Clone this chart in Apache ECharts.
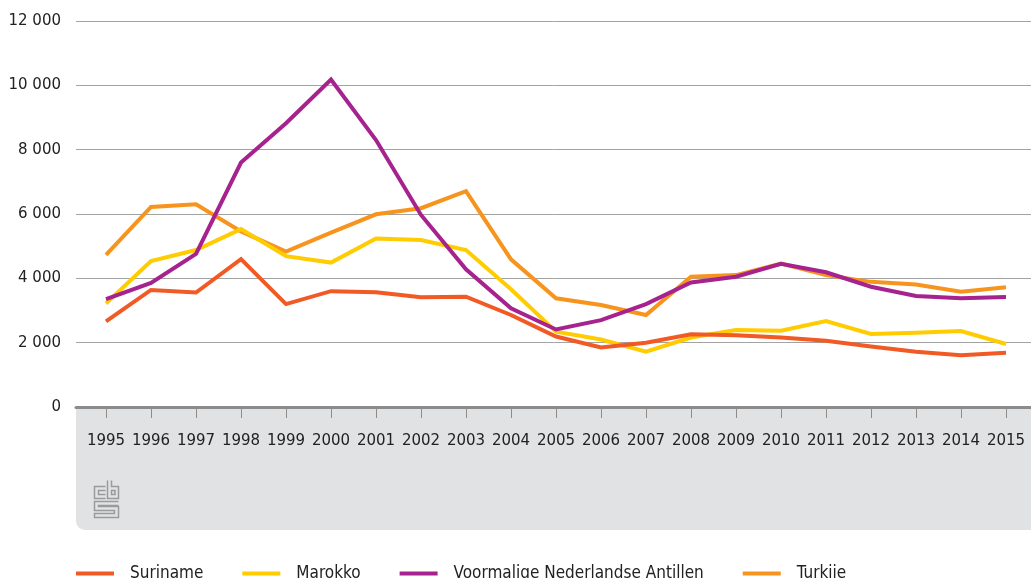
<!DOCTYPE html>
<html>
<head>
<meta charset="UTF-8">
<title>Chart</title>
<script src="https://cdn.jsdelivr.net/npm/echarts@6/dist/echarts.min.js"></script>
<style>
  html, body { margin: 0; padding: 0; background: #fff; }
  #chart { width: 1031px; height: 578px; }
</style>
</head>
<body>
<div id="chart"></div>
<script>
// data
var years = ['1995', '1996', '1997', '1998', '1999', '2000', '2001', '2002', '2003', '2004', '2005',
             '2006', '2007', '2008', '2009', '2010', '2011', '2012', '2013', '2014', '2015'];
var suriname = [2660, 3640, 3560, 4600, 3200, 3600, 3570, 3410, 3430, 2860, 2190,
                1850, 2000, 2260, 2230, 2160, 2060, 1880, 1720, 1610, 1690];
var marokko = [3220, 4540, 4880, 5530, 4690, 4490, 5240, 5190, 4880, 3660, 2340,
               2100, 1720, 2160, 2390, 2370, 2670, 2270, 2310, 2360, 1960];
var antillen = [3350, 3860, 4760, 7600, 8820, 10180, 8300, 5970, 4280, 3070, 2410,
                2700, 3200, 3870, 4050, 4450, 4190, 3740, 3450, 3380, 3420];
var turkije = [4730, 6220, 6300, 5460, 4830, 5420, 5990, 6180, 6710, 4590, 3380,
               3170, 2860, 4050, 4100, 4460, 4100, 3890, 3810, 3580, 3720];
var names = ['Suriname', 'Marokko', 'Voormalige Nederlandse Antillen', 'Turkije'];
var colors = ['#f15a24', '#ffcc00', '#a6228f', '#f7941d'];

var chart = echarts.init(document.getElementById('chart'));

function thousands(v) {
  return String(v).replace(/\B(?=(\d{3})+(?!\d))/g, ' ');
}

function line(name, data, color, z) {
  return {
    name: name,
    type: 'line',
    xAxisIndex: 1,
    yAxisIndex: 1,
    data: data,
    color: color,
    z: z,
    symbol: 'none',
    lineStyle: { width: 4, color: color, join: 'miter' },
    emphasis: { disabled: true }
  };
}

var grey = '#9a9a9a';

var option = {
  animation: false,
  textStyle: { fontFamily: 'DejaVu Sans' },
  // grid 0 carries the gridlines and y labels across the full width,
  // grid 1 holds the lines with the years
  grid: [
    { left: 76, right: 0, top: 21, bottom: 171 },
    { left: 106, right: 25, top: 21, bottom: 171 }
  ],
  xAxis: [{
    gridIndex: 0,
    type: 'value',
    min: 0,
    max: 1,
    axisLabel: { show: false },
    axisTick: { show: false },
    splitLine: { show: false },
    axisLine: { show: true, lineStyle: { color: '#8c8c8c', width: 3 } },
    z: 3
  }, {
    gridIndex: 1,
    type: 'category',
    data: years,
    boundaryGap: false,
    axisLine: { show: false },
    axisTick: { show: true, length: 11, lineStyle: { color: '#8c8c8c', width: 1 } },
    axisLabel: { margin: 27, color: '#222', fontSize: 15, fontFamily: 'DejaVu Sans', interval: 0 },
    splitLine: { show: false }
  }],
  yAxis: [{
    gridIndex: 0,
    type: 'value',
    min: 0,
    max: 12000,
    interval: 2000,
    axisLine: { show: false },
    axisTick: { show: false },
    axisLabel: { margin: 15, color: '#222', fontSize: 15, fontFamily: 'DejaVu Sans', formatter: thousands },
    splitLine: { lineStyle: { color: '#a3a3a3', width: 1 } }
  }, {
    gridIndex: 1,
    type: 'value',
    min: 0,
    max: 12000,
    interval: 2000,
    show: false
  }],
  legend: {
    left: 76,
    top: 565,
    padding: 0,
    itemWidth: 38,
    itemHeight: 4,
    itemGap: 39,
    icon: 'rect',
    data: names,
    selectedMode: false,
    textStyle: { color: '#222', fontSize: 17, fontFamily: 'DejaVu Sans Condensed', padding: [0, 0, 0, 11] }
  },
  graphic: [{
    type: 'rect',
    z: -10,
    shape: { x: 76, y: 407, width: 960, height: 123, r: [0, 0, 0, 9] },
    style: { fill: '#e1e2e4' }
  }, {
    // cbs logo
    type: 'group',
    left: 92,
    top: 478,
    children: [
      { type: 'polyline', shape: { points: [[11, 6], [0, 6], [0, 18], [11, 18]] }, style: { stroke: grey, lineWidth: 1.5, fill: null } },
      { type: 'polyline', shape: { points: [[11, 10], [4, 10], [4, 14], [11, 14]] }, style: { stroke: grey, lineWidth: 1.5, fill: null } },
      { type: 'polyline', shape: { points: [[13, 0], [13, 18], [24, 18], [24, 6], [17, 6], [17, 0]] }, style: { stroke: grey, lineWidth: 1.5, fill: null } },
      { type: 'rect', shape: { x: 17, y: 10, width: 3.5, height: 4 }, style: { stroke: grey, lineWidth: 1.5, fill: null } },
      { type: 'polyline', shape: { points: [[24, 21], [0, 21], [0, 30], [20, 30], [20, 33], [0, 33], [0, 37], [24, 37], [24, 26], [4, 26], [4, 25], [24, 25]] }, style: { stroke: grey, lineWidth: 1.5, fill: null } }
    ]
  }],
  series: [
    line(names[0], suriname, colors[0], 4),
    line(names[1], marokko, colors[1], 3),
    line(names[2], antillen, colors[2], 5),
    line(names[3], turkije, colors[3], 2)
  ]
};

chart.setOption(option);
</script>
</body>
</html>
